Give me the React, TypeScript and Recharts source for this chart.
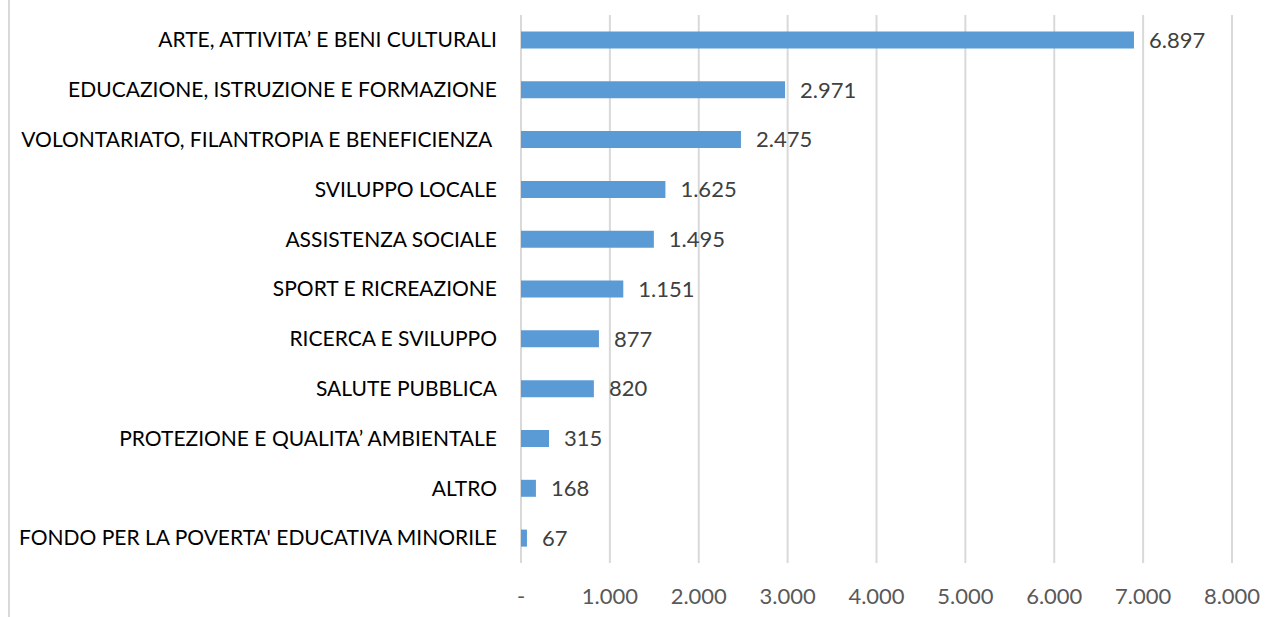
import React from 'react';
import { BarChart, Bar, XAxis, YAxis, CartesianGrid, LabelList } from 'recharts';

const categories = [
  'ARTE, ATTIVITA’ E BENI CULTURALI',
  'EDUCAZIONE, ISTRUZIONE E FORMAZIONE',
  'VOLONTARIATO, FILANTROPIA E BENEFICIENZA ',
  'SVILUPPO LOCALE',
  'ASSISTENZA SOCIALE',
  'SPORT E RICREAZIONE',
  'RICERCA E SVILUPPO',
  'SALUTE PUBBLICA',
  'PROTEZIONE E QUALITA’ AMBIENTALE',
  'ALTRO',
  "FONDO PER LA POVERTA' EDUCATIVA MINORILE",
];
const values = [6897, 2971, 2475, 1625, 1495, 1151, 877, 820, 315, 168, 67];
const xTicks = [0, 1000, 2000, 3000, 4000, 5000, 6000, 7000, 8000];

const data = categories.map((name, i) => ({ name, value: values[i] }));

const FONT = "Lato, sans-serif";

const fmt = (v: number) => {
  if (v === 0) return '-';
  return String(v).replace(/\B(?=(\d{3})+(?!\d))/g, '.');
};

const CatTick = (props: any) => {
  const { x, y, payload } = props;
  return (
    <text x={x + 6} y={y} dy="0.35em" textAnchor="end" fill="#000000" fontSize={21} fontFamily={FONT} style={{ whiteSpace: 'pre' }}>
      {payload.value}
    </text>
  );
};

export default function App() {
  return (
    <div style={{ position: 'absolute', left: 0, top: 0, width: 1279, height: 617, background: '#fff' }}>
      <div style={{ position: 'absolute', left: 8, top: 0, width: 2, height: 617, background: '#d9d9d9' }} />
      <BarChart
        width={1279}
        height={617}
        data={data}
        layout="vertical"
        margin={{ top: 15, right: 47, bottom: 0, left: 0 }}
        barCategoryGap="33%"
      >
        <CartesianGrid horizontal={false} stroke="#d9d9d9" strokeWidth={2} />
        <XAxis
          type="number"
          domain={[0, 8000]}
          ticks={xTicks}
          tickFormatter={fmt}
          axisLine={false}
          tickLine={false}
          height={54}
          tickMargin={19}
          tick={{ fill: '#595959', fontSize: 22, fontFamily: FONT }}
          interval={0}
        />
        <YAxis
          type="category"
          dataKey="name"
          width={521}
          axisLine={false}
          tickLine={false}
          tick={<CatTick />}
          tickMargin={24}
          interval={0}
        />
        <Bar dataKey="value" fill="#5b9bd5" isAnimationActive={false}>
          <LabelList
            dataKey="value"
            position="right"
            offset={15}
            formatter={(v: any) => fmt(Number(v))}
            fill="#404040"
            fontSize={22}
            fontFamily={FONT}
          />
        </Bar>
      </BarChart>
    </div>
  );
}
